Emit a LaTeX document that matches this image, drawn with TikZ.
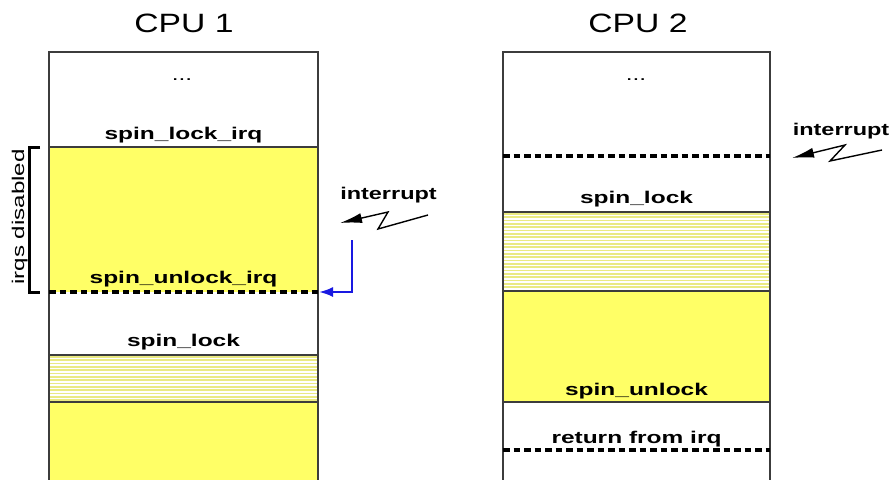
\documentclass[tikz,border=0pt]{standalone}
\usepackage{fontspec}
\setmainfont{Liberation Sans}
\usetikzlibrary{arrows.meta}

\definecolor{lockyellow}{RGB}{255,255,102}
\definecolor{spinline}{RGB}{234,234,130}
\definecolor{irqblue}{RGB}{25,25,225}
\definecolor{boxgray}{RGB}{60,60,60}

% horizontally widened text
\newcommand{\widetext}[2][1.44]{\scalebox{#1}[1]{#2}}

\begin{document}
\begin{tikzpicture}[x=1pt,y=-1pt,
  lbl/.style={inner sep=0pt, anchor=base, font=\fontsize{17}{17}\selectfont\bfseries},
  irqlbl/.style={inner sep=0pt, anchor=base, font=\fontsize{17}{17}\selectfont\bfseries},
  cputitle/.style={inner sep=0pt, anchor=base, font=\fontsize{26.5}{26.5}\selectfont},
  dots/.style={inner sep=0pt, anchor=base, font=\fontsize{17}{17}\selectfont},
  sideline/.style={draw=boxgray, line width=1.1pt},
  sepline/.style={draw=boxgray, line width=1.1pt},
  irqline/.style={draw=black, line width=3.2pt, dash pattern=on 6.5pt off 4pt},
  bolt/.style={draw=black, line width=1.4pt, -{Latex[length=22pt,width=10pt]}},
  irqarrow/.style={draw=irqblue, line width=2.2pt, -{Latex[length=14pt,width=10pt]}},
  bracket/.style={draw=black, line width=3pt}]

\useasboundingbox (0,0) rectangle (890,479);
\clip (0,0) rectangle (890,479);

% ---------------- CPU 1 ----------------
\fill[lockyellow] (49,147) rectangle (318,292);
\fill[lockyellow] (49,402) rectangle (318,485);
\foreach \k in {0,...,13}
  \draw[spinline, line width=1.6pt] (49,356.8+\k*3.33) -- (318,356.8+\k*3.33);
\draw[sepline] (49,147) -- (318,147);
\draw[sepline] (49,355) -- (318,355);
\draw[sepline] (49,402) -- (318,402);
\draw[sideline] (49,485) |- (318,52) -- (318,485);
\draw[irqline] (49,292) -- (318,292);

\node[cputitle] (cpu1) at (184,32) {\widetext[1.27]{CPU 1}};
\node[dots] (dots1) at (182,80) {\widetext{...}};
\node[lbl] (locka) at (183.5,139) {\widetext{spin\_lock\_irq}};
\node[lbl] (unlocka) at (183.5,283) {\widetext{spin\_unlock\_irq}};
\node[lbl] (lockb) at (183.5,346) {\widetext{spin\_lock}};

% irqs disabled bracket
\coordinate (brtop) at (40,147);
\coordinate (brbot) at (40,292);
\draw[bracket] (brtop) -- (29,147) -- (29,292) -- (brbot);
\node[inner sep=0pt, anchor=base, rotate=90, font=\fontsize{17}{17}\selectfont]
  (irqoff) at (24,217) {\widetext[1.42]{irqs disabled}};

% interrupt arriving at CPU 1
\node[irqlbl] (int1) at (388.5,199) {\widetext[1.38]{interrupt}};
\coordinate (b1end) at (428,215);
\coordinate (b1bot) at (378,229);
\coordinate (b1top) at (388,212);
\coordinate (b1tip) at (340,223);
\draw[bolt] (b1end) -- (b1bot) -- (b1top) -- (b1tip);

\coordinate (irqsrc) at (352,240);
\coordinate (irqdst) at (319,292);
\draw[irqarrow] (irqsrc) |- (irqdst);

% ---------------- CPU 2 ----------------
\fill[lockyellow] (503,291) rectangle (770,402);
\foreach \k in {0,...,23}
  \draw[spinline, line width=1.6pt] (503,213.8+\k*3.33) -- (770,213.8+\k*3.33);
\draw[sepline, line width=1.5pt] (503,212) -- (770,212);
\draw[sepline] (503,291) -- (770,291);
\draw[sepline] (503,402) -- (770,402);
\draw[sideline] (503,485) |- (770,52) -- (770,485);
\draw[irqline] (503,156) -- (770,156);
\draw[irqline] (503,450) -- (770,450);

\node[cputitle] (cpu2) at (638,32) {\widetext[1.27]{CPU 2}};
\node[dots] (dots2) at (636,80) {\widetext{...}};
\node[lbl] (lockc) at (636.5,203) {\widetext{spin\_lock}};
\node[lbl] (unlockc) at (636.5,395) {\widetext{spin\_unlock}};
\node[lbl] (retirq) at (636.5,443) {\widetext{return from irq}};

% interrupt arriving at CPU 2
\node[irqlbl] (int2) at (841,135) {\widetext[1.38]{interrupt}};
\coordinate (b2end) at (882,150);
\coordinate (b2bot) at (830,161);
\coordinate (b2top) at (845,145);
\coordinate (b2tip) at (792,158);
\draw[bolt] (b2end) -- (b2bot) -- (b2top) -- (b2tip);
\end{tikzpicture}
\end{document}
